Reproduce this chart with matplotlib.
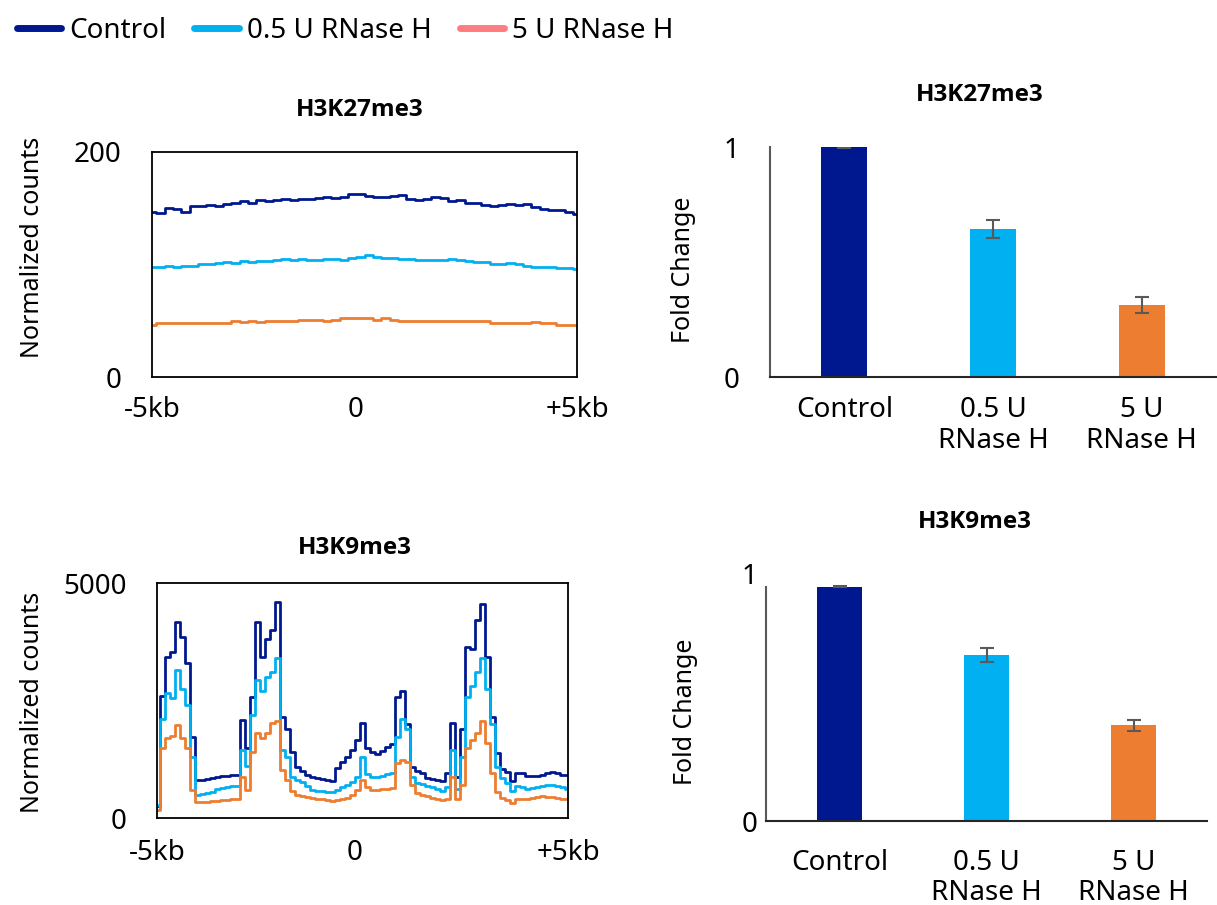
import numpy as np
import matplotlib
matplotlib.use("Agg")
import matplotlib.pyplot as plt
from matplotlib.lines import Line2D

plt.rcParams['font.family'] = ['Noto Sans', 'DejaVu Sans']

# ---------------- data ----------------
series_names = ["Control", "0.5 U RNase H", "5 U RNase H"]
bar_labels = ["Control", "0.5 U\nRNase H", "5 U\nRNase H"]
line_colors = ["#00188F", "#00B0F0", "#ED7D31"]
legend_colors = ["#00188F", "#00B0F0", "#FF7C80"]
bar_colors = ["#00188F", "#00B0F0", "#ED7D31"]

x_tick_labels = ["-5kb", "0", "+5kb"]

# H3K27me3 profile (normalized counts)
k27_control = [147, 146, 150, 149, 147, 152, 152, 153, 152, 154, 155, 156, 155, 157, 156, 157,
               158, 157, 158, 158, 159, 160, 159, 160, 163, 163, 161, 160, 160, 161, 162, 158,
               157, 158, 160, 159, 156, 157, 155, 155, 153, 152, 153, 154, 153, 154, 151, 149,
               148, 148, 147, 145]
k27_half = [98, 98, 99, 98, 99, 99, 100, 100, 101, 102, 101, 103, 102, 103, 103, 104, 105, 104,
            105, 104, 104, 105, 105, 104, 106, 107, 108, 107, 106, 106, 105, 105, 104, 104, 104,
            104, 105, 104, 103, 102, 102, 100, 100, 101, 100, 99, 98, 98, 98, 97, 97, 96]
k27_five = [46, 48, 48, 48, 48, 48, 48, 48, 48, 48, 50, 49, 50, 49, 50, 50, 50, 50, 51, 51, 51,
            50, 51, 52, 52, 52, 52, 51, 52, 51, 50, 50, 50, 50, 50, 50, 50, 50, 50, 50, 50, 48,
            48, 48, 48, 48, 49, 48, 48, 46, 46, 46]

# H3K9me3 profile (normalized counts)
k9_control = [250, 2600, 3430, 3530, 4170, 3850, 3300, 1720, 800, 810, 830, 850, 880, 890, 900,
              910, 920, 2085, 1500, 2570, 4170, 3430, 3800, 4000, 4600, 2150, 1900, 1400, 1080,
              1000, 920, 880, 850, 820, 800, 780, 1060, 1190, 1300, 1450, 1660, 2020, 1500, 1400,
              1360, 1420, 1510, 1570, 2570, 2700, 2000, 1090, 1000, 950, 850, 820, 800, 790, 950,
              2020, 880, 1900, 3640, 3600, 4210, 4550, 3430, 2150, 1380, 1050, 980, 790, 950, 960,
              900, 890, 900, 920, 960, 980, 950, 910, 910]
k9_half = [280, 2100, 2660, 2560, 3150, 2750, 2400, 1300, 500, 520, 540, 560, 620, 640, 660, 680,
           690, 1450, 1100, 2200, 2940, 2700, 3000, 3100, 3400, 1450, 1300, 880, 810, 760, 680,
           600, 570, 570, 560, 550, 600, 660, 700, 760, 880, 1300, 940, 880, 870, 900, 930, 950,
           1720, 2100, 1900, 880, 740, 720, 690, 650, 620, 580, 650, 1450, 620, 1300, 2570, 2800,
           3100, 3400, 2750, 2000, 1090, 860, 740, 570, 690, 660, 620, 630, 650, 680, 710, 700,
           680, 650, 620]
k9_five = [170, 1500, 1700, 1750, 1980, 1700, 1500, 600, 330, 340, 350, 360, 370, 380, 390, 400,
           410, 880, 600, 1400, 1800, 1700, 1800, 2020, 2070, 1020, 810, 580, 500, 460, 440, 430,
           410, 400, 390, 370, 390, 400, 430, 480, 600, 810, 650, 600, 600, 610, 620, 640, 1170,
           1240, 1200, 700, 530, 480, 460, 430, 400, 390, 400, 880, 400, 700, 1500, 1660, 1800,
           2070, 1590, 950, 560, 430, 380, 320, 400, 400, 400, 420, 440, 460, 450, 440, 420, 410,
           400]

# Fold change bars
k27_fold = [1.0, 0.643, 0.313]
k27_err = [0.003, 0.04, 0.033]
k9_fold = [0.945, 0.671, 0.386]
k9_err = [0.003, 0.028, 0.022]

FS = 20
FS_LAB = 18
TITLE_FONT = ['Open Sans', 'DejaVu Sans']

fig = plt.figure(figsize=(12.17, 9.05), dpi=100)
W, H = 1217, 905


def rect(l, t, r, b):
    return [l / W, 1 - b / H, (r - l) / W, (b - t) / H]


def profile(ax, series, ymax, ytick_labels, xpad):
    for vals, c in zip(series, line_colors):
        xs = np.arange(len(vals))
        ax.plot(xs, vals, color=c, lw=2.0, drawstyle='steps-mid')
    n = len(series[0]) - 1
    ax.set_xlim(0, n)
    ax.set_ylim(0, ymax)
    ax.set_xticks([0, n * 0.48, n])
    ax.set_xticklabels(x_tick_labels, fontsize=FS)
    ax.set_yticks([0, ymax])
    ax.set_yticklabels(ytick_labels, fontsize=FS)
    ax.tick_params(axis='both', length=0)
    ax.tick_params(axis='x', pad=xpad)
    ax.tick_params(axis='y', pad=22)
    for s in ax.spines.values():
        s.set_linewidth(1.3)
        s.set_color('#000000')


def bars(ax, vals, errs, ypad, xpad, spine_top):
    xs = np.arange(len(vals))
    ax.bar(xs, vals, width=0.31, color=bar_colors, zorder=2)
    ax.errorbar(xs, vals, yerr=errs, fmt='none', ecolor='#595959', elinewidth=1.5,
                capsize=5, capthick=1.5, zorder=3)
    ax.set_xlim(-0.5, 2.5)
    ax.set_ylim(0, 1)
    ax.set_xticks(xs)
    ax.set_xticklabels(bar_labels, fontsize=FS, linespacing=1.1)
    ax.set_yticks([0, 1])
    ax.set_yticklabels(["0", "1"], fontsize=FS)
    ax.tick_params(axis='both', length=0)
    ax.tick_params(axis='x', pad=xpad)
    ax.tick_params(axis='y', pad=ypad)
    for k in ['top', 'right']:
        ax.spines[k].set_visible(False)
    ax.spines['left'].set_color('#595959')
    ax.spines['left'].set_linewidth(1.5)
    ax.spines['left'].set_bounds(0, spine_top)
    ax.spines['bottom'].set_color('#262626')
    ax.spines['bottom'].set_linewidth(1.5)


ax1 = fig.add_axes(rect(152, 152, 577, 377))
profile(ax1, [k27_control, k27_half, k27_five], 200, ["0", "200"], xpad=14)

ax3 = fig.add_axes(rect(157, 583, 568, 818))
profile(ax3, [k9_control, k9_half, k9_five], 5000, ["0", "5000"], xpad=15)

ax2 = fig.add_axes(rect(770, 147, 1216, 377))
bars(ax2, k27_fold, k27_err, ypad=22, xpad=14, spine_top=1.0)

ax4 = fig.add_axes(rect(766, 573, 1207, 821))
bars(ax4, k9_fold, k9_err, ypad=6, xpad=20, spine_top=0.945)

# titles
for (tx, ty, t) in [(360, 110, "H3K27me3"), (980, 95, "H3K27me3"),
                    (355, 548, "H3K9me3"), (975, 522, "H3K9me3")]:
    fig.text(tx / W, 1 - ty / H, t, fontsize=17.5, fontweight='bold', family=TITLE_FONT,
             ha='center', va='center')

# y labels
fig.text(33 / W, 1 - 247 / H, "Normalized counts", fontsize=FS_LAB, rotation=90, ha='center', va='center')
fig.text(33 / W, 1 - 702 / H, "Normalized counts", fontsize=FS_LAB, rotation=90, ha='center', va='center')
fig.text(683 / W, 1 - 270 / H, "Fold Change", fontsize=FS_LAB, rotation=90, ha='center', va='center')
fig.text(686 / W, 1 - 712 / H, "Fold Change", fontsize=FS_LAB, rotation=90, ha='center', va='center')

# legend
handles = [Line2D([], [], color=c, lw=5, solid_capstyle='round') for c in legend_colors]
fig.legend(handles, series_names, loc='upper left', bbox_to_anchor=(0.0, 1.0), ncol=3,
           frameon=False, fontsize=FS, handlelength=1.6, handletextpad=0.3,
           columnspacing=1.0, borderaxespad=0.2)

fig.savefig("out.png", dpi=100)
